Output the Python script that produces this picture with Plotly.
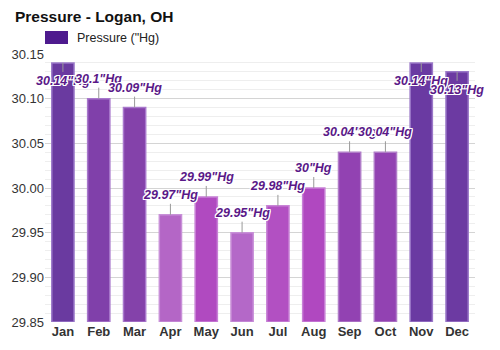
import plotly.graph_objects as go

months = ["Jan", "Feb", "Mar", "Apr", "May", "Jun", "Jul", "Aug", "Sep", "Oct", "Nov", "Dec"]
pressure = [30.14, 30.10, 30.09, 29.97, 29.99, 29.95, 29.98, 30.00, 30.04, 30.04, 30.14, 30.13]
labels = ['30.14"Hg', '30.1"Hg', '30.09"Hg', '29.97"Hg', '29.99"Hg', '29.95"Hg',
          '29.98"Hg', '30"Hg', '30.04"Hg', '30.04"Hg', '30.14"Hg', '30.13"Hg']
bar_colors = ["#6a3aa0", "#8040aa", "#8442aa", "#b466c6", "#b04ac0", "#b468c8",
              "#b250c2", "#b048c0", "#9242b2", "#9242b2", "#6a3aa2", "#6c3aa2"]
border_colors = ["#9a78c8", "#a878cc", "#a878cc", "#c890d8", "#c880d6", "#c890d8",
                 "#c884d6", "#c880d6", "#b07cc8", "#b07cc8", "#9a78c8", "#9a78c8"]
label_offsets = [9, -11, -11, -11, -11, -11, -11, -11, -11, -11, 9, 9]
BASE = 29.85

fig = go.Figure()
fig.add_trace(go.Bar(
    x=months, y=[v - BASE for v in pressure], base=BASE,
    marker=dict(color=bar_colors, line=dict(color=border_colors, width=1.5)),
    width=0.62, showlegend=False, hoverinfo="skip",
))

halo = ("-1px -1px 0 #fff, 1px -1px 0 #fff, -1px 1px 0 #fff, 1px 1px 0 #fff, "
        "0 -1px 0 #fff, 0 1px 0 #fff, -1px 0 0 #fff, 1px 0 0 #fff")
for m, v, t, off in zip(months, pressure, labels, label_offsets):
    fig.add_annotation(
        x=m, y=v, text=f"<b><i>{t}</i></b>", showarrow=True, arrowhead=0,
        arrowwidth=1, arrowcolor="#999999", ax=0, ay=off,
        yanchor="bottom" if off < 0 else "top",
        font=dict(family="Liberation Sans, Arial", size=12.5, color="#5a1888", shadow=halo),
    )

# legend swatch
fig.add_shape(type="rect", xref="paper", yref="paper",
              x0=0.0, x1=23/430, y0=1 + 10/268, y1=1 + 23/268,
              fillcolor="#4e1a8e", line=dict(width=0))
fig.add_annotation(xref="paper", yref="paper", x=30/430, y=1 + 16.5/268,
                   text='Pressure ("Hg)', showarrow=False, xanchor="left", yanchor="middle",
                   font=dict(family="Liberation Sans, Arial", size=12.5, color="#222"))

fig.update_layout(
    width=500, height=350,
    margin=dict(l=45, r=25, t=54, b=28, autoexpand=False),
    paper_bgcolor="white", plot_bgcolor="white",
    title=dict(text="<b>Pressure - Logan, OH</b>", x=15/500, xanchor="left",
               y=1 - 17/350, yanchor="middle",
               font=dict(family="Liberation Sans, Arial", size=15.5, color="#111")),
    xaxis=dict(showgrid=False, showline=False, ticks="", automargin=False,
               range=[-0.5, 11.5], autorange=False,
               tickfont=dict(family="Liberation Sans, Arial", size=13, color="#333", weight="bold")),
    yaxis=dict(range=[29.85, 30.15], tick0=29.85, dtick=0.05, tickformat=".2f",
               automargin=False, ticklabelstandoff=0,
               showgrid=True, gridcolor="#d4d4d4", gridwidth=1, zeroline=False,
               minor=dict(dtick=0.01, showgrid=True, gridcolor="#eeeeee", gridwidth=1),
               tickfont=dict(family="Liberation Sans, Arial", size=13, color="#333")),
)
fig.write_html("out.html")
